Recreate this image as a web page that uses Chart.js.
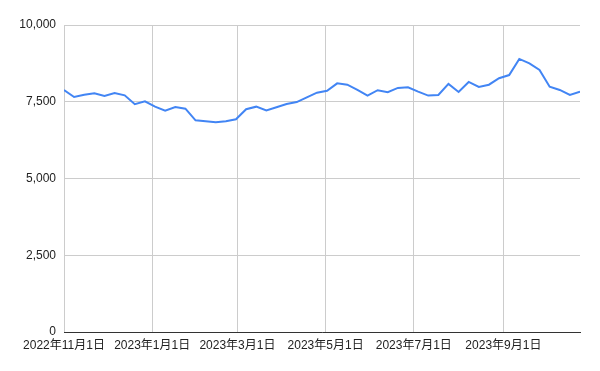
<!DOCTYPE html>
<html>
<head>
<meta charset="utf-8">
<script src="https://cdn.jsdelivr.net/npm/chart.js@4"></script>
<style>
html,body{margin:0;padding:0;background:#fff;}
#wrap{width:600px;height:371px;}
</style>
</head>
<body>
<div id="wrap"><canvas id="c" width="600" height="371"></canvas></div>
<script>
const startDate = '2022-11-01';
const values = [7880,7655,7730,7775,7690,7785,7710,7420,7515,7340,7210,7330,7275,6895,6865,6830,6865,6930,7255,7340,7220,7320,7425,7490,7645,7795,7860,8100,8055,7885,7700,7875,7810,7950,7970,7830,7700,7720,8080,7820,8145,7980,8055,8265,8370,8895,8750,8535,7990,7885,7720,7830];
const tickDates = ['2022-11-01','2023-01-01','2023-03-01','2023-05-01','2023-07-01','2023-09-01'];
const tickLabels = ['2022年11月1日','2023年1月1日','2023年3月1日','2023年5月1日','2023年7月1日','2023年9月1日'];
const yTicks = [0,2500,5000,7500,10000];

const DAY = 86400000;
const t0 = Date.parse(startDate + 'T00:00:00Z');
const dayOf = s => Math.round((Date.parse(s + 'T00:00:00Z') - t0) / DAY);
const tickDays = tickDates.map(dayOf);
const points = values.map((v, i) => ({x: i * 7, y: v}));
const FONT = "'Liberation Sans', Arial, 'Noto Sans CJK JP', sans-serif";

new Chart(document.getElementById('c'), {
  type: 'line',
  data: {
    datasets: [{
      data: points,
      borderColor: '#4285F4',
      borderWidth: 2,
      pointRadius: 0,
      tension: 0,
      fill: false
    }]
  },
  options: {
    responsive: false,
    animation: false,
    layout: {padding: {top: 25, right: 20, left: 0, bottom: 0}},
    plugins: {legend: {display: false}, tooltip: {enabled: false}},
    scales: {
      x: {
        type: 'linear',
        min: 0,
        max: (values.length - 1) * 7,
        afterBuildTicks: s => { s.ticks = tickDays.map(v => ({value: v})); },
        afterFit: s => { s.height = 39; },
        ticks: {
          autoSkip: false,
          maxRotation: 0,
          padding: 6,
          color: '#222',
          font: {family: FONT, size: 12},
          callback: (v) => { const k = tickDays.indexOf(v); return k >= 0 ? tickLabels[k] : ''; }
        },
        grid: {color: '#cccccc', drawTicks: false, lineWidth: 1},
        border: {color: '#333333', width: 1}
      },
      y: {
        min: 0,
        max: 10000,
        afterBuildTicks: s => { s.ticks = yTicks.map(v => ({value: v})); },
        afterFit: s => { s.width = 64; },
        ticks: {
          padding: 8,
          color: '#222',
          font: {family: FONT, size: 12},
          callback: v => v.toLocaleString('en-US')
        },
        grid: {color: '#cccccc', drawTicks: false, lineWidth: 1},
        border: {display: false}
      }
    }
  }
});
</script>
</body>
</html>
